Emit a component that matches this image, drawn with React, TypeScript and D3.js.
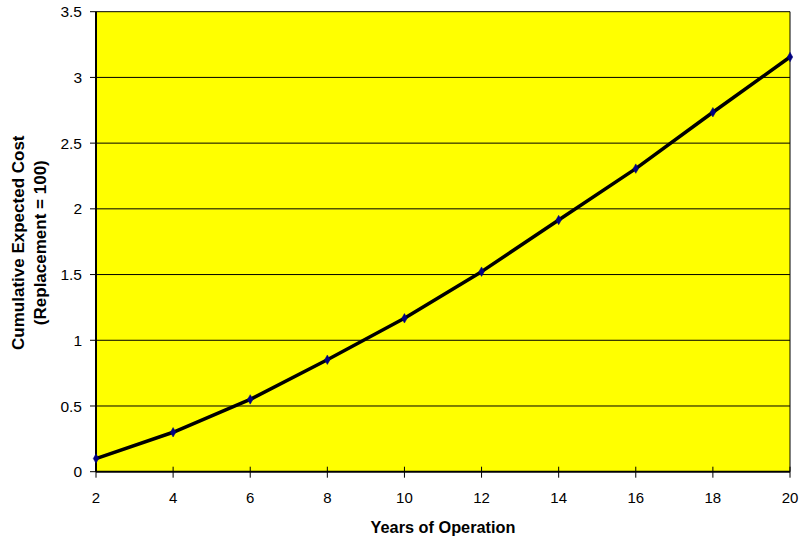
import React from "react";
import * as d3 from "d3";

const years = [2, 4, 6, 8, 10, 12, 14, 16, 18, 20];
const costs = [0.1, 0.3, 0.55, 0.852, 1.167, 1.522, 1.915, 2.306, 2.735, 3.155];
const yTicks = [0, 0.5, 1, 1.5, 2, 2.5, 3, 3.5];
const xTicks = [2, 4, 6, 8, 10, 12, 14, 16, 18, 20];
const xTitle = "Years of Operation";
const yTitle1 = "Cumulative Expected Cost";
const yTitle2 = "(Replacement = 100)";

const W = 799;
const H = 539;
const L = 96, R = 790, T = 11.7, B = 471.7;
const FONT = "'Liberation Sans', Arial, Helvetica, sans-serif";

export default function App() {
  const x = d3.scaleLinear().domain([2, 20]).range([L, R]);
  const y = d3.scaleLinear().domain([0, 3.5]).range([B, T]);
  const line = d3
    .line<number>()
    .x((_, i) => x(years[i]))
    .y((d) => y(d));
  const diamond = d3.symbol().type(d3.symbolDiamond).size(26)() as string;

  return (
    <svg
      width={W}
      height={H}
      style={{ position: "absolute", left: 0, top: 0, background: "#fff" }}
      fontFamily={FONT}
    >
      <rect x={L} y={T} width={R - L} height={B - T} fill="#ffff00" />
      {yTicks.map((t) => (
        <g key={"y" + t}>
          {t > 0 && (
            <line x1={L} x2={R} y1={y(t)} y2={y(t)} stroke="#000" strokeWidth={1} />
          )}
          <line x1={L - 6} x2={L} y1={y(t)} y2={y(t)} stroke="#000" strokeWidth={1} />
          <text
            x={82}
            y={y(t)}
            dy="0.36em"
            textAnchor="end"
            fontSize={15.5}
            fill="#000"
          >
            {String(t)}
          </text>
        </g>
      ))}
      <line x1={R} x2={R} y1={T} y2={B} stroke="#000" strokeWidth={1} />
      <line x1={L} x2={L} y1={T} y2={B} stroke="#000" strokeWidth={2} />
      <line x1={L} x2={R} y1={B} y2={B} stroke="#000" strokeWidth={2} />
      {xTicks.map((t) => (
        <g key={"x" + t}>
          <line x1={x(t)} x2={x(t)} y1={B - 5} y2={B + 6} stroke="#000" strokeWidth={1} />
          <text x={x(t)} y={503.3} textAnchor="middle" fontSize={15} fill="#000">
            {String(t)}
          </text>
        </g>
      ))}
      <path d={line(costs) || ""} fill="none" stroke="#000" strokeWidth={3.5} strokeLinejoin="round" />
      {costs.map((c, i) => (
        <path
          key={"m" + i}
          d={diamond}
          transform={`translate(${x(years[i])},${y(c)})`}
          fill="#000080"
          stroke="#000080"
          strokeWidth={0.5}
        />
      ))}
      <text
        x={443}
        y={533.3}
        textAnchor="middle"
        fontSize={16.3}
        fontWeight="bold"
        fill="#000"
      >
        {xTitle}
      </text>
      <g transform={`translate(24,${(T + B) / 2 + 1}) rotate(-90)`}>
        <text x={0} y={0} textAnchor="middle" fontSize={17} fontWeight="bold" fill="#000">
          {yTitle1}
        </text>
        <text x={0} y={22} textAnchor="middle" fontSize={17} fontWeight="bold" fill="#000">
          {yTitle2}
        </text>
      </g>
    </svg>
  );
}
